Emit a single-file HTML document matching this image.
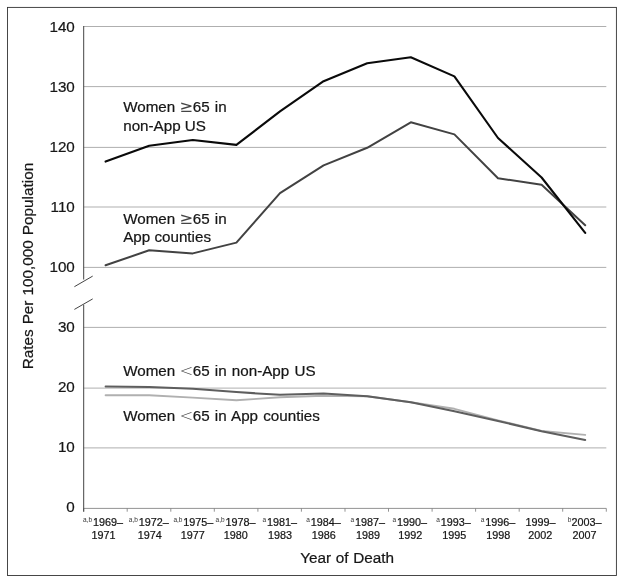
<!DOCTYPE html>
<html lang="en">
<head>
<meta charset="utf-8">
<title>Rates Per 100,000 Population by Year of Death</title>
<style>
html,body{margin:0;padding:0;background:#fff;}
body{width:624px;height:582px;overflow:hidden;}
svg{display:block;filter:blur(0.3px);}
text{font-family:"Liberation Sans",Arial,Helvetica,sans-serif;fill:#161616;stroke:#161616;stroke-width:0.22px;}
.yl{font-size:15.2px;text-anchor:end;}
.ser{font-size:15.2px;word-spacing:1px;}
.nws{word-spacing:0;}
.ttl{font-size:15.3px;text-anchor:middle;word-spacing:0.8px;}
.xl{font-size:10.8px;text-anchor:middle;}
.sup{font-size:6.5px;fill:#333;stroke:none;}
.sym{font-family:"DejaVu Sans Light","DejaVu Sans",sans-serif;fill:#444;font-size:16.4px;stroke:none;}
</style>
</head>
<body>
<svg width="624" height="582" viewBox="0 0 624 582">
<rect x="0" y="0" width="624" height="582" fill="#ffffff"/>
<rect x="7.5" y="7.4" width="608.9" height="568.1" fill="none" stroke="#333333" stroke-width="0.9"/>

<g stroke="#a0a0a0" stroke-width="0.85" fill="none">
<line x1="83.7" y1="26.5" x2="606.3" y2="26.5"/>
<line x1="83.7" y1="86.6" x2="606.3" y2="86.6"/>
<line x1="83.7" y1="147.4" x2="606.3" y2="147.4"/>
<line x1="83.7" y1="207.0" x2="606.3" y2="207.0"/>
<line x1="83.7" y1="267.4" x2="606.3" y2="267.4"/>
<line x1="83.7" y1="327.4" x2="606.3" y2="327.4"/>
<line x1="83.7" y1="388.1" x2="606.3" y2="388.1"/>
<line x1="83.7" y1="447.9" x2="606.3" y2="447.9"/>
</g>
<g stroke="#808080" stroke-width="0.85" fill="none">
<line x1="83.7" y1="508.4" x2="606.3" y2="508.4"/>
<line x1="83.7" y1="508.4" x2="83.7" y2="511.7"/>
<line x1="127.2" y1="508.4" x2="127.2" y2="511.7"/>
<line x1="170.8" y1="508.4" x2="170.8" y2="511.7"/>
<line x1="214.3" y1="508.4" x2="214.3" y2="511.7"/>
<line x1="257.9" y1="508.4" x2="257.9" y2="511.7"/>
<line x1="301.4" y1="508.4" x2="301.4" y2="511.7"/>
<line x1="345.0" y1="508.4" x2="345.0" y2="511.7"/>
<line x1="388.5" y1="508.4" x2="388.5" y2="511.7"/>
<line x1="432.1" y1="508.4" x2="432.1" y2="511.7"/>
<line x1="475.6" y1="508.4" x2="475.6" y2="511.7"/>
<line x1="519.2" y1="508.4" x2="519.2" y2="511.7"/>
<line x1="562.7" y1="508.4" x2="562.7" y2="511.7"/>
<line x1="606.3" y1="508.4" x2="606.3" y2="511.7"/>
</g>
<g stroke="#444444" stroke-width="1" fill="none">
<line x1="83.7" y1="26" x2="83.7" y2="279.5"/>
<line x1="83.7" y1="304.7" x2="83.7" y2="511.7"/>
<line x1="74.4" y1="286.7" x2="92.7" y2="276.1"/>
<line x1="74.4" y1="309.4" x2="92.7" y2="298.9"/>
</g>
<polyline points="105.6,395.2 149.2,395.2 192.8,397.6 236.4,400.2 280.0,397.3 323.6,395.8 367.2,396.2 410.8,402.3 454.4,408.8 498.0,420.4 541.6,431.0 585.2,434.9" fill="none" stroke="#b0b0b0" stroke-width="1.9" stroke-linejoin="round" stroke-linecap="round"/>
<polyline points="105.6,386.6 149.2,387.0 192.8,388.8 236.4,392.1 280.0,394.8 323.6,393.5 367.2,396.2 410.8,402.3 454.4,411.2 498.0,421.0 541.6,431.3 585.2,440.0" fill="none" stroke="#5e5e5e" stroke-width="2.0" stroke-linejoin="round" stroke-linecap="round"/>
<polyline points="105.6,265.3 149.2,250.3 192.8,253.4 236.4,242.6 280.0,193.1 323.6,165.4 367.2,147.8 410.8,122.3 454.4,134.4 498.0,178.2 541.6,184.7 585.2,225.2" fill="none" stroke="#424242" stroke-width="2.0" stroke-linejoin="round" stroke-linecap="round"/>
<polyline points="105.6,161.6 149.2,145.7 192.8,140.0 236.4,144.9 280.0,111.4 323.6,81.2 367.2,63.3 410.8,57.3 454.4,76.4 498.0,138.0 541.6,177.5 585.2,232.9" fill="none" stroke="#0a0a0a" stroke-width="2.1" stroke-linejoin="round" stroke-linecap="round"/>
<text class="yl" x="74.8" y="31.6">140</text>
<text class="yl" x="74.8" y="91.6">130</text>
<text class="yl" x="74.8" y="151.6">120</text>
<text class="yl" x="74.8" y="211.6">110</text>
<text class="yl" x="74.8" y="271.6">100</text>
<text class="yl" x="74.8" y="331.6">30</text>
<text class="yl" x="74.8" y="391.6">20</text>
<text class="yl" x="74.8" y="451.6">10</text>
<text class="yl" x="74.8" y="511.6">0</text>
<text class="ser" x="123.2" y="112.1">Women <tspan class="sym" x="179.6">≥</tspan><tspan x="192.7">65 in</tspan></text>
<text class="ser nws" x="123.2" y="131.1">non-App US</text>
<text class="ser" x="123.2" y="223.5">Women <tspan class="sym" x="179.6">≥</tspan><tspan x="192.7">65 in</tspan></text>
<text class="ser nws" x="123.2" y="241.9">App counties</text>
<text class="ser" x="123.2" y="375.9">Women <tspan class="sym" x="179.6">&lt;</tspan><tspan x="192.7">65 in non-App US</tspan></text>
<text class="ser" x="123.2" y="420.9">Women <tspan class="sym" x="179.6">&lt;</tspan><tspan x="192.7">65 in App counties</tspan></text>
<text class="ttl" style="word-spacing:0.4px" x="347.2" y="562.8">Year of Death</text>
<text class="ttl" transform="translate(33.1,266.1) rotate(-90)">Rates Per 100,000 Population</text>
<text class="xl" x="103.05" y="525.5"><tspan class="sup" dy="-3.8">a,b</tspan><tspan dy="3.8" dx="0.9">1969–</tspan></text>
<text class="xl" x="103.45" y="538.8">1971</text>
<text class="xl" x="148.85" y="525.5"><tspan class="sup" dy="-3.8">a,b</tspan><tspan dy="3.8" dx="0.9">1972–</tspan></text>
<text class="xl" x="149.75" y="538.8">1974</text>
<text class="xl" x="193.4" y="525.5"><tspan class="sup" dy="-3.8">a,b</tspan><tspan dy="3.8" dx="0.9">1975–</tspan></text>
<text class="xl" x="192.8" y="538.8">1977</text>
<text class="xl" x="235.6" y="525.5"><tspan class="sup" dy="-3.8">a,b</tspan><tspan dy="3.8" dx="0.9">1978–</tspan></text>
<text class="xl" x="235.75" y="538.8">1980</text>
<text class="xl" x="279.75" y="525.5"><tspan class="sup" dy="-3.8">a</tspan><tspan dy="3.8" dx="0.9">1981–</tspan></text>
<text class="xl" x="280.0" y="538.8">1983</text>
<text class="xl" x="323.5" y="525.5"><tspan class="sup" dy="-3.8">a</tspan><tspan dy="3.8" dx="0.9">1984–</tspan></text>
<text class="xl" x="323.75" y="538.8">1986</text>
<text class="xl" x="367.75" y="525.5"><tspan class="sup" dy="-3.8">a</tspan><tspan dy="3.8" dx="0.9">1987–</tspan></text>
<text class="xl" x="368.0" y="538.8">1989</text>
<text class="xl" x="409.75" y="525.5"><tspan class="sup" dy="-3.8">a</tspan><tspan dy="3.8" dx="0.9">1990–</tspan></text>
<text class="xl" x="410.35" y="538.8">1992</text>
<text class="xl" x="453.5" y="525.5"><tspan class="sup" dy="-3.8">a</tspan><tspan dy="3.8" dx="0.9">1993–</tspan></text>
<text class="xl" x="454.2" y="538.8">1995</text>
<text class="xl" x="498.1" y="525.5"><tspan class="sup" dy="-3.8">a</tspan><tspan dy="3.8" dx="0.9">1996–</tspan></text>
<text class="xl" x="498.35" y="538.8">1998</text>
<text class="xl" x="540.6" y="525.5">1999–</text>
<text class="xl" x="540.3" y="538.8">2002</text>
<text class="xl" x="584.55" y="525.5"><tspan class="sup" dy="-3.8">b</tspan><tspan dy="3.8" dx="0.1">2003–</tspan></text>
<text class="xl" x="584.6" y="538.8">2007</text>
</svg>
</body>
</html>
